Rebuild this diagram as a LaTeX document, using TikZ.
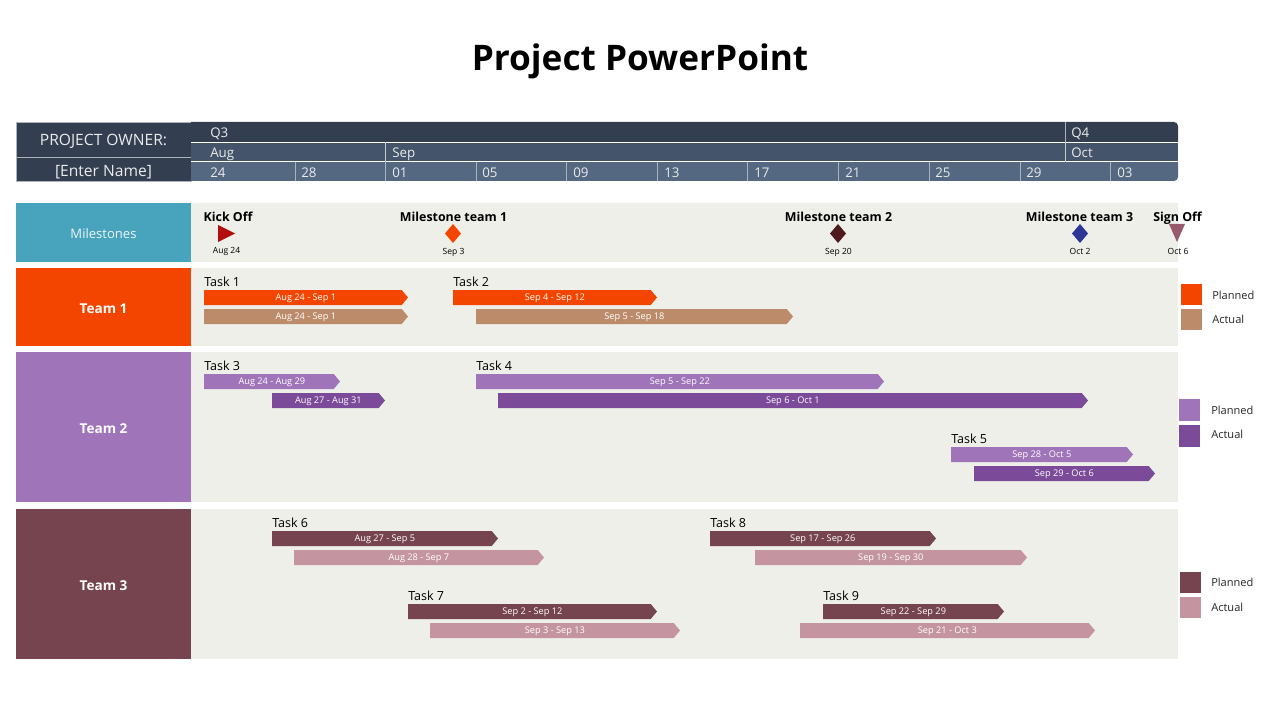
\documentclass[tikz,border=0pt]{standalone}
\usepackage{xcolor}
\usepackage{fontspec}
\setmainfont{Open Sans}
\usetikzlibrary{positioning, shapes.symbols}
\definecolor{rowq}{HTML}{333F50}
\definecolor{rowm}{HTML}{44546A}
\definecolor{rowd}{HTML}{546882}
\definecolor{teal}{HTML}{48A3BC}
\definecolor{panel}{HTML}{EEEFE8}
\definecolor{orangeP}{HTML}{F44500}
\definecolor{orangeA}{HTML}{BC8C6A}
\definecolor{purpleP}{HTML}{A074B9}
\definecolor{purpleA}{HTML}{7B4A98}
\definecolor{maroonP}{HTML}{76444F}
\definecolor{maroonA}{HTML}{C495A1}
\definecolor{kickred}{HTML}{B30E0E}
\definecolor{ms2dark}{HTML}{4F1A1E}
\definecolor{ms3blue}{HTML}{2E3596}
\definecolor{signoff}{HTML}{96596E}
\tikzset{
  px/.style args={#1x#2}{minimum width=#1*0.75pt, minimum height=#2*0.75pt},
  block/.style={rectangle, inner sep=0pt, outer sep=0pt, anchor=north west},
  teamblock/.style={block, text=white, text height=10.3pt, text depth=0pt, font=\fontsize{10.2}{12}\selectfont\bfseries},
  bar/.style={signal, signal to=east, signal pointer angle=100, inner sep=0pt, outer sep=0pt,
    anchor=west, minimum height=11.25pt, text=white, text height=5.2pt, text depth=0.1pt,
    execute at begin node={\hspace*{4.5pt}}, font=\fontsize{6.9}{8}\selectfont},
  tasklabel/.style={anchor=base west, inner sep=0pt, font=\fontsize{9.4}{11}\selectfont},
  mslabel/.style={anchor=base, inner sep=0pt, font=\fontsize{9.3}{11}\selectfont\bfseries},
  msdate/.style={anchor=base, inner sep=0pt, font=\fontsize{6.4}{8}\selectfont},
  hdr/.style={anchor=base west, inner sep=0pt, text=white!92!black, font=\fontsize{10}{12}\selectfont},
  keytext/.style={anchor=base west, inner sep=0pt, font=\fontsize{8.3}{9}\selectfont, text=black!85},
}
\begin{document}
\begin{tikzpicture}[x=0.75pt, y=-0.75pt]
\useasboundingbox (0,0) rectangle (1280,720);

\node[anchor=base, inner sep=0pt, font=\fontsize{26.4}{32}\selectfont\bfseries] (title) at (640,70.5) {Project PowerPoint};

% header
\node[block, fill=rowq, px=175x35, draw=white!60!rowq, line width=0.6pt] (owner) at (16,122) {};
\node[block, fill=rowq, px=175x24, draw=white!60!rowq, line width=0.6pt] (ownername) at (16,157) {};
\node[text=white!92!black, font=\fontsize{11.7}{14}\selectfont, inner sep=0pt, yshift=-1.5pt] at (owner.center) {PROJECT OWNER:};
\node[text=white!92!black, font=\fontsize{11.7}{14}\selectfont, inner sep=0pt, yshift=-2.2pt] at (ownername.center) {[Enter Name]};

\fill[rowq] (191,122) [rounded corners=3pt] -- (1178,122) [sharp corners] -- (1178,142) -- (191,142) -- cycle;
\fill[rowm] (191,142) rectangle (1178,162);
\fill[rowd] (191,162) -- (1178,162) [rounded corners=3pt] -- (1178,181) [sharp corners] -- (191,181) -- cycle;
\draw[white, line width=0.6pt] (191,142) -- (1178,142);
\draw[white, line width=0.6pt] (191,161.5) -- (1178,161.5);
\draw[white!70!rowm, line width=0.6pt] (385.5,142) -- (385.5,162);
\draw[white!60!rowq, line width=0.6pt] (1065.5,122) -- (1065.5,142);
\draw[white!70!rowm, line width=0.6pt] (1065.5,142) -- (1065.5,162);
\foreach \xtick in {295,385.5,476.5,566.5,657.5,747.5,838.5,929.5,1020,1110.5}
  \draw[white!50!rowd, line width=0.6pt] (\xtick,162) -- (\xtick,181);

\node[hdr] at (210,138) {Q3};
\node[hdr] at (1071,138) {Q4};
\node[hdr] at (210,158) {Aug};
\node[hdr] at (392,158) {Sep};
\node[hdr] at (1071,158) {Oct};
\node[hdr] at (210,178) {24};
\node[hdr] at (301,178) {28};
\node[hdr] at (392,178) {01};
\node[hdr] at (482,178) {05};
\node[hdr] at (573,178) {09};
\node[hdr] at (664,178) {13};
\node[hdr] at (754,178) {17};
\node[hdr] at (845,178) {21};
\node[hdr] at (935,178) {25};
\node[hdr] at (1026,178) {29};
\node[hdr] at (1117,178) {03};

% rows
\node[block, fill=panel, px=987x59] (msrow) at (191,203) {};
\node[block, fill=panel, px=987x78] (row1) at (191,268) {};
\node[block, fill=panel, px=987x150] (row2) at (191,352) {};
\node[block, fill=panel, px=987x150] (row3) at (191,509) {};
\node[block, fill=teal, px=175x59, text=white!90!teal, text height=8.8pt, text depth=0pt, font=\fontsize{9.8}{12}\selectfont] (milestones) at (16,203) {Milestones};
\node[teamblock, fill=orangeP, px=175x78] (team1) at (16,268) {Team 1};
\node[teamblock, fill=purpleP, px=175x150] (team2) at (16,352) {Team 2};
\node[teamblock, fill=maroonP, px=175x150] (team3) at (16,509) {Team 3};

% milestones
\node[mslabel] at (228,222) {Kick Off};
\node[mslabel] at (453.5,222) {Milestone team 1};
\node[mslabel] at (838.5,222) {Milestone team 2};
\node[mslabel] at (1079.5,222) {Milestone team 3};
\node[mslabel] at (1177.5,222) {Sign Off};
\fill[kickred] (218,225) -- (235,233.5) -- (218,242) -- cycle;
\fill[orangeP] (453,224) -- (461,233.5) -- (453,243) -- (445,233.5) -- cycle;
\fill[ms2dark] (838,224) -- (846,233.5) -- (838,243) -- (830,233.5) -- cycle;
\fill[ms3blue] (1080,224) -- (1088,233.5) -- (1080,243) -- (1072,233.5) -- cycle;
\fill[signoff] (1169,224) -- (1185,224) -- (1177,242) -- cycle;
\node[msdate] at (226.5,253) {Aug 24};
\node[msdate] at (453.5,254) {Sep 3};
\node[msdate] at (838.5,254) {Sep 20};
\node[msdate] at (1080,254) {Oct 2};
\node[msdate] at (1178,254) {Oct 6};

% team 1
\node[tasklabel] at (204,286) {Task 1};
\node[tasklabel] at (453,286) {Task 2};
\node[bar, fill=orangeP, px=204x15] (t1p) at (204,297.5) {Aug 24 - Sep 1};
\node[bar, fill=orangeA, px=204x15] (t1a) at (204,316.5) {Aug 24 - Sep 1};
\node[bar, fill=orangeP, px=204x15] (t2p) at (453,297.5) {Sep 4 - Sep 12};
\node[bar, fill=orangeA, px=317x15] (t2a) at (476,316.5) {Sep 5 - Sep 18};

% team 2
\node[tasklabel] at (204,370) {Task 3};
\node[tasklabel] at (476,370) {Task 4};
\node[tasklabel] at (951,443) {Task 5};
\node[bar, fill=purpleP, px=136x15] (t3p) at (204,381.5) {Aug 24 - Aug 29};
\node[bar, fill=purpleA, px=113x15] (t3a) at (272,400.5) {Aug 27 - Aug 31};
\node[bar, fill=purpleP, px=408x15] (t4p) at (476,381.5) {Sep 5 - Sep 22};
\node[bar, fill=purpleA, px=590x15] (t4a) at (498,400.5) {Sep 6 - Oct 1};
\node[bar, fill=purpleP, px=182x15] (t5p) at (951,454.5) {Sep 28 - Oct 5};
\node[bar, fill=purpleA, px=181x15] (t5a) at (974,473.5) {Sep 29 - Oct 6};

% team 3
\node[tasklabel] at (272,527) {Task 6};
\node[tasklabel] at (710,527) {Task 8};
\node[tasklabel] at (408,600) {Task 7};
\node[tasklabel] at (823,600) {Task 9};
\node[bar, fill=maroonP, px=226x15] (t6p) at (272,538.5) {Aug 27 - Sep 5};
\node[bar, fill=maroonA, px=250x15] (t6a) at (294,557.5) {Aug 28 - Sep 7};
\node[bar, fill=maroonP, px=226x15] (t8p) at (710,538.5) {Sep 17 - Sep 26};
\node[bar, fill=maroonA, px=272x15] (t8a) at (755,557.5) {Sep 19 - Sep 30};
\node[bar, fill=maroonP, px=249x15] (t7p) at (408,611.5) {Sep 2 - Sep 12};
\node[bar, fill=maroonA, px=250x15] (t7a) at (430,630.5) {Sep 3 - Sep 13};
\node[bar, fill=maroonP, px=181x15] (t9p) at (823,611.5) {Sep 22 - Sep 29};
\node[bar, fill=maroonA, px=295x15] (t9a) at (800,630.5) {Sep 21 - Oct 3};

% legend
\node[block, fill=orangeP, px=21x21] (key1p) at (1181,284) {};
\node[block, fill=orangeA, px=21x21] (key1a) at (1181,309) {};
\node[block, fill=purpleP, px=21x22] (key2p) at (1179,399) {};
\node[block, fill=purpleA, px=21x22] (key2a) at (1179,425) {};
\node[block, fill=maroonP, px=21x21] (key3p) at (1180,572) {};
\node[block, fill=maroonA, px=21x21] (key3a) at (1180,597) {};
\node[keytext] at (1212,299) {Planned};
\node[keytext] at (1212,323) {Actual};
\node[keytext] at (1211,414) {Planned};
\node[keytext] at (1211,438) {Actual};
\node[keytext] at (1211,586) {Planned};
\node[keytext] at (1211,611) {Actual};
\end{tikzpicture}
\end{document}
